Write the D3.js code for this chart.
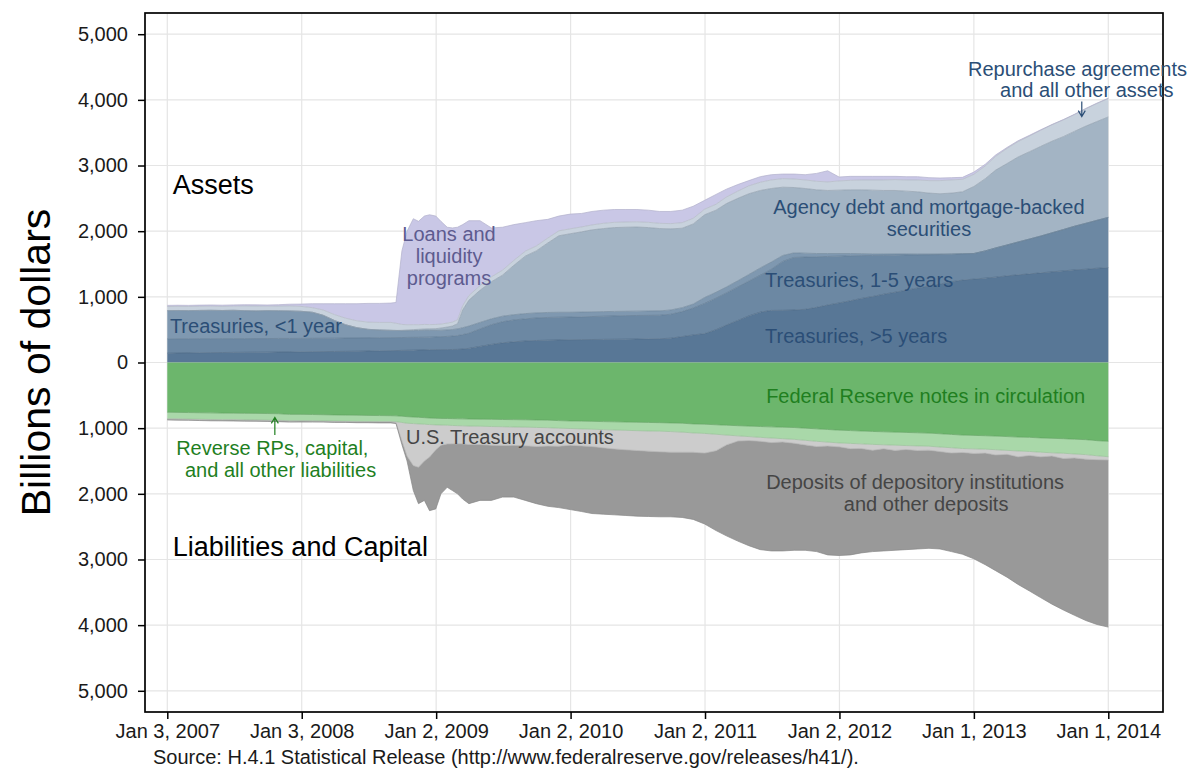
<!DOCTYPE html>
<html><head><meta charset="utf-8">
<script src="https://cdn.jsdelivr.net/npm/d3@7"></script>
<style>
html,body{margin:0;padding:0;background:#fff;}
svg{display:block;font-family:"Liberation Sans",Arial,Helvetica,sans-serif;}
</style></head><body>
<svg id="chart" width="1198" height="783"></svg>
<script>
// ---------------- DATA (billions of dollars) ----------------
const dates = [
"2007-01-03","2007-02-01","2007-03-01","2007-04-01","2007-05-01","2007-06-01","2007-07-01","2007-08-01","2007-09-01","2007-10-01","2007-11-01","2007-12-01",
"2008-01-01","2008-02-01","2008-03-01","2008-04-01","2008-05-01","2008-06-01","2008-07-01","2008-08-01","2008-09-01","2008-09-15","2008-10-01","2008-10-15","2008-11-01","2008-11-15","2008-12-01","2008-12-15",
"2009-01-01","2009-01-15","2009-02-01","2009-02-15","2009-03-01","2009-03-15","2009-04-01","2009-05-01","2009-06-01","2009-07-01","2009-08-01","2009-09-01","2009-10-01","2009-11-01","2009-12-01",
"2010-01-01","2010-02-01","2010-03-01","2010-04-01","2010-05-01","2010-06-01","2010-07-01","2010-08-01","2010-09-01","2010-10-01","2010-11-01","2010-12-01",
"2011-01-01","2011-02-01","2011-03-01","2011-04-01","2011-05-01","2011-06-01","2011-07-01","2011-08-01","2011-09-01","2011-10-01","2011-11-01","2011-12-01",
"2012-01-01","2012-02-01","2012-03-01","2012-04-01","2012-05-01","2012-06-01","2012-07-01","2012-08-01","2012-09-01","2012-10-01","2012-11-01","2012-12-01",
"2013-01-01","2013-02-01","2013-03-01","2013-04-01","2013-05-01","2013-06-01","2013-07-01","2013-08-01","2013-09-01","2013-10-01","2013-11-01","2013-12-01",
"2014-01-01"];

// Assets (stacked upward, bottom first)
const treasuriesOver5Yr = [
142,144,146,148,150,152,154,156,157,158,159,160,
162,164,166,168,170,172,175,178,180,182,184,186,188,190,192,194,
195,196,197,198,200,205,215,245,275,300,315,328,335,340,344,
346,348,350,352,354,356,358,360,362,370,395,420,
440,500,570,640,710,767,793,795,800,810,840,875,
907,940,975,1005,1040,1070,1100,1135,1165,1195,1230,1255,
1270,1285,1300,1320,1335,1350,1365,1380,1395,1410,1420,1435,1445];
const treasuries1to5Yr = [
219,218,216,215,213,212,210,208,208,207,207,206,
205,204,203,202,202,201,200,199,198,197,196,196,195,194,193,192,
195,197,200,204,210,220,230,265,300,320,333,337,343,346,346,
346,347,350,353,356,358,358,358,358,365,380,410,
460,480,490,510,530,563,627,745,800,795,770,740,
713,685,653,625,592,565,538,505,477,450,420,400,
390,415,445,470,500,530,560,595,630,665,700,730,765];
const treasuriesUnder1Yr = [
429,430,428,430,432,428,431,426,420,425,422,419,
413,397,351,270,203,157,130,118,112,109,105,103,103,104,105,104,
100,99,99,100,102,105,110,100,90,85,80,80,77,76,75,
73,73,72,70,68,66,66,66,66,65,60,60,
90,90,90,95,100,110,110,90,70,60,50,45,
40,35,30,25,20,18,15,12,10,8,5,3,
0,0,0,0,0,0,0,0,0,0,0,0,0];
const agencyMbs = [
0,0,0,0,0,0,0,0,0,0,0,0,
0,0,0,0,0,0,0,0,0,0,5,10,15,17,20,22,
25,33,44,53,78,270,395,490,565,625,752,875,945,1058,1165,
1196,1222,1248,1265,1277,1280,1281,1271,1254,1235,1210,1220,
1260,1250,1270,1255,1230,1180,1120,1040,995,985,970,960,
965,970,972,970,968,967,957,948,928,917,925,942,
1020,1100,1185,1240,1295,1330,1365,1395,1415,1445,1480,1505,1530];
const repoOtherAssets = [
62,63,63,63,63,63,63,72,75,68,72,77,
75,70,80,90,100,105,110,115,120,110,90,80,75,70,70,65,
65,60,60,60,60,65,70,70,75,75,75,75,75,75,75,
75,75,75,80,80,80,80,80,80,80,85,85,
85,90,100,110,120,125,130,130,130,130,130,130,
140,145,150,155,160,165,170,180,190,200,200,190,
185,195,210,230,235,240,245,250,255,255,265,275,280];
const loansLiquidity = [
18,17,17,18,18,18,19,18,18,18,20,26,
35,60,95,165,220,260,285,290,295,317,1120,1425,1614,1575,1650,1673,
1650,1565,1460,1435,1410,1235,1140,990,745,655,545,435,385,285,225,
224,205,205,200,195,190,187,185,180,185,190,185,
135,150,120,100,80,85,80,70,75,80,120,170,
60,60,55,55,55,50,50,50,45,40,35,30,
35,25,20,15,12,10,8,5,5,5,5,5,5];

// Liabilities and capital (stacked downward, top first)
const fedNotes = [
758,760,762,765,767,770,772,774,775,777,780,790,
790,792,795,798,800,803,806,808,810,812,818,825,830,835,840,845,
850,852,853,855,857,858,860,862,865,868,870,872,875,878,885,
890,893,896,900,903,906,910,913,916,920,925,935,
940,948,955,962,968,975,980,985,990,1000,1010,1020,
1030,1037,1043,1050,1055,1060,1065,1070,1075,1085,1095,1105,
1110,1115,1120,1128,1135,1140,1148,1155,1160,1168,1175,1190,1200];
const reverseRpCapital = [
100,98,100,99,101,100,98,100,99,101,100,97,
97,95,95,94,95,94,93,92,90,90,95,100,100,100,100,100,
100,100,102,104,105,106,108,108,110,110,112,112,114,115,115,
115,118,120,122,125,127,128,130,130,132,135,138,
140,145,150,155,160,165,170,175,180,185,190,192,
195,195,196,197,198,199,200,200,200,202,203,205,
205,205,208,210,212,215,218,220,222,225,228,230,235];
const treasuryAccounts = [
5,6,5,8,5,6,5,5,6,5,5,6,
5,6,5,6,5,6,5,5,5,10,280,500,640,660,560,495,
380,308,285,280,275,275,280,280,285,285,280,285,290,280,275,
255,259,264,278,288,297,302,307,314,315,307,294,
300,250,150,80,60,60,70,50,60,70,80,60,
60,80,70,90,60,80,60,70,60,70,80,60,
70,60,80,60,90,60,70,50,80,60,70,60,50];
const depositsOther = [
12,14,13,12,15,13,16,14,15,14,16,15,
15,14,13,14,12,14,13,15,15,18,57,75,380,555,600,816,
900,740,660,711,763,841,902,850,840,787,788,831,871,917,935,
980,1000,1020,1010,1004,1000,1000,995,990,983,993,1023,
1080,1217,1385,1523,1602,1650,1650,1660,1630,1605,1600,1658,
1655,1618,1591,1543,1557,1521,1525,1500,1495,1483,1502,1550,
1605,1700,1762,1872,1943,2065,2144,2255,2308,2397,2457,2510,2545];

// Axis ticks
const xTickDates  = ["2007-01-03","2008-01-03","2009-01-02","2010-01-02","2011-01-02","2012-01-02","2013-01-01","2014-01-01"];
const xTickLabels = ["Jan 3, 2007","Jan 3, 2008","Jan 2, 2009","Jan 2, 2010","Jan 2, 2011","Jan 2, 2012","Jan 1, 2013","Jan 1, 2014"];
const yTicks = [-5000,-4000,-3000,-2000,-1000,0,1000,2000,3000,4000,5000];

// ---------------- CHART ----------------
const parse = d3.utcParse("%Y-%m-%d");
const FONT = '"Liberation Sans", Arial, Helvetica, sans-serif';
const svg = d3.select("#chart");
const P = {left:145, right:1163, top:13, bottom:712};

const x = d3.scaleUtc()
  .domain([parse(dates[0]), parse(dates[dates.length-1])])
  .range([167.3, 1108.3]);
const y = d3.scaleLinear().domain([-5000, 5000]).range([690.8, 34.2]);

svg.append("rect").attr("width",1198).attr("height",783).attr("fill","#fff");

// grid
const grid = svg.append("g");
grid.selectAll("line.gh").data(yTicks).join("line").attr("class","gh")
  .attr("x1",P.left).attr("x2",P.right).attr("y1",d=>y(d)).attr("y2",d=>y(d))
  .attr("stroke","#e5e5e5").attr("stroke-width",1.2);
grid.selectAll("line.gv").data(xTickDates).join("line").attr("class","gv")
  .attr("y1",P.top).attr("y2",P.bottom).attr("x1",d=>x(parse(d))).attr("x2",d=>x(parse(d)))
  .attr("stroke","#e5e5e5").attr("stroke-width",1.2);

// data rows
const rows = dates.map((d,i)=>({
  date: parse(d),
  t5: treasuriesOver5Yr[i], t15: treasuries1to5Yr[i], t1: treasuriesUnder1Yr[i],
  mbs: agencyMbs[i], repo: repoOtherAssets[i], loans: loansLiquidity[i],
  notes: fedNotes[i], rrp: reverseRpCapital[i], tsy: treasuryAccounts[i], dep: depositsOther[i]
}));

const assetKeys = ["t5","t15","t1","mbs","repo","loans"];
const assetColors = {t5:"#587796", t15:"#6c88a3", t1:"#7f98b0", mbs:"#a3b4c4", repo:"#c8d2dd", loans:"#c9c7e6"};
const liabKeys = ["notes","rrp","tsy","dep"];
const liabColors = {notes:"#6cb66c", rrp:"#a9d8a9", tsy:"#cccccc", dep:"#999999"};

const aStack = d3.stack().keys(assetKeys)(rows);
const lStack = d3.stack().keys(liabKeys)(rows);

const areaUp = d3.area().x(d=>x(d.data.date)).y0(d=>y(d[0])).y1(d=>y(d[1]));
const areaDown = d3.area().x(d=>x(d.data.date)).y0(d=>y(-d[0])).y1(d=>y(-d[1]));
const lineUp = d3.line().x(d=>x(d.data.date)).y(d=>y(d[1]));
const lineDown = d3.line().x(d=>x(d.data.date)).y(d=>y(-d[1]));

const gA = svg.append("g");
gA.selectAll("path.a").data(aStack).join("path").attr("class","a")
  .attr("d",areaUp).attr("fill",d=>assetColors[d.key]);
gA.selectAll("path.al").data(aStack).join("path").attr("class","al")
  .attr("d",lineUp).attr("fill","none")
  .attr("stroke",d=>d3.color(assetColors[d.key]).darker(0.35)).attr("stroke-width",0.7);

const gL = svg.append("g");
gL.selectAll("path.l").data(lStack).join("path").attr("class","l")
  .attr("d",areaDown).attr("fill",d=>liabColors[d.key]);
gL.selectAll("path.ll").data(lStack).join("path").attr("class","ll")
  .attr("d",lineDown).attr("fill","none")
  .attr("stroke",d=>d3.color(liabColors[d.key]).darker(0.35)).attr("stroke-width",0.7);

// axes
const yAxis = d3.axisLeft(y).tickValues(yTicks)
  .tickFormat(d=>d3.format(",")(Math.abs(d))).tickSize(7).tickPadding(10);
svg.append("g").attr("transform",`translate(${P.left},0)`).call(yAxis)
  .attr("font-family",FONT).attr("font-size",20)
  .call(g=>g.select(".domain").remove())
  .call(g=>g.selectAll(".tick line").attr("stroke","#000").attr("stroke-width",1.5))
  .call(g=>g.selectAll(".tick text").attr("fill","#1a1a1a"));

const xAxis = d3.axisBottom(x).tickValues(xTickDates.map(parse))
  .tickFormat((d,i)=>xTickLabels[i]).tickSize(7).tickPadding(5);
svg.append("g").attr("transform",`translate(0,${P.bottom})`).call(xAxis)
  .attr("font-family",FONT).attr("font-size",20)
  .call(g=>g.select(".domain").remove())
  .call(g=>g.selectAll(".tick line").attr("stroke","#000").attr("stroke-width",1.5))
  .call(g=>g.selectAll(".tick text").attr("fill","#1a1a1a"));

// frame
svg.append("rect").attr("x",P.left).attr("y",P.top)
  .attr("width",P.right-P.left).attr("height",P.bottom-P.top)
  .attr("fill","none").attr("stroke","#000").attr("stroke-width",1.7);

// axis title
svg.append("text").attr("transform",`translate(50,${y(0)}) rotate(-90)`)
  .attr("text-anchor","middle").attr("font-family",FONT).attr("font-size",41)
  .attr("fill","#000").text("Billions of dollars");

// source
svg.append("text").attr("x",153).attr("y",764).attr("font-family",FONT).attr("font-size",20)
  .attr("fill","#1a1a1a").text("Source: H.4.1 Statistical Release (http://www.federalreserve.gov/releases/h41/).");

// annotations (positioned in data coordinates)
const BLUE="#2b4e76", PURPLE="#5d5b8f", GREEN="#1f7f1f", GRAY="#454545";
const notes = [
  {t:"Assets", d:"2007-01-18", v:2565, size:27, c:"#000", a:"start"},
  {t:"Liabilities and Capital", d:"2007-01-18", v:-2945, size:27, c:"#000", a:"start"},
  {t:"Treasuries, <1 year", d:"2007-01-10", v:449, c:BLUE, a:"start"},
  {t:"Loans and", d:"2009-02-06", v:1850, c:PURPLE, a:"middle"},
  {t:"liquidity", d:"2009-02-06", v:1515, c:PURPLE, a:"middle"},
  {t:"programs", d:"2009-02-06", v:1180, c:PURPLE, a:"middle"},
  {t:"Agency debt and mortgage-backed", d:"2012-09-01", v:2262, c:BLUE, a:"middle"},
  {t:"securities", d:"2012-09-01", v:1927, c:BLUE, a:"middle"},
  {t:"Treasuries, 1-5 years", d:"2011-06-14", v:1150, c:BLUE, a:"start"},
  {t:"Treasuries, >5 years", d:"2011-06-14", v:292, c:BLUE, a:"start"},
  {t:"Repurchase agreements", d:"2012-12-16", v:4371, c:BLUE, a:"start"},
  {t:"and all other assets", d:"2013-03-13", v:4036, c:BLUE, a:"start"},
  {t:"Federal Reserve notes in circulation", d:"2011-06-17", v:-612, c:GREEN, a:"start"},
  {t:"U.S. Treasury accounts", d:"2008-10-12", v:-1246, c:GRAY, a:"start"},
  {t:"Reverse RPs, capital,", d:"2007-01-27", v:-1416, c:GREEN, a:"start"},
  {t:"and all other liabilities", d:"2007-02-20", v:-1751, c:GREEN, a:"start"},
  {t:"Deposits of depository institutions", d:"2011-06-17", v:-1927, c:GRAY, a:"start"},
  {t:"and other deposits", d:"2012-01-14", v:-2262, c:GRAY, a:"start"}
];
svg.append("g").selectAll("text").data(notes).join("text")
  .attr("x",d=>x(parse(d.d))).attr("y",d=>y(d.v))
  .attr("text-anchor",d=>d.a).attr("font-family",FONT)
  .attr("font-size",d=>d.size||20).attr("fill",d=>d.c).text(d=>d.t);

// arrows
const arrows = [
  {d:"2013-10-21", v0:3975, v1:3744, c:BLUE},
  {d:"2007-10-22", v0:-1104, v1:-835, c:GREEN}
];
const gArr = svg.append("g");
arrows.forEach(a=>{
  const ax = x(parse(a.d)), y0 = y(a.v0), y1 = y(a.v1);
  const dir = Math.sign(y1-y0), L = 6, w = 3.5;
  gArr.append("path")
    .attr("d",`M${ax},${y0}L${ax},${y1}M${ax-w},${y1-dir*L}L${ax},${y1}L${ax+w},${y1-dir*L}`)
    .attr("fill","none").attr("stroke",a.c).attr("stroke-width",1.2);
});
</script>
</body></html>
